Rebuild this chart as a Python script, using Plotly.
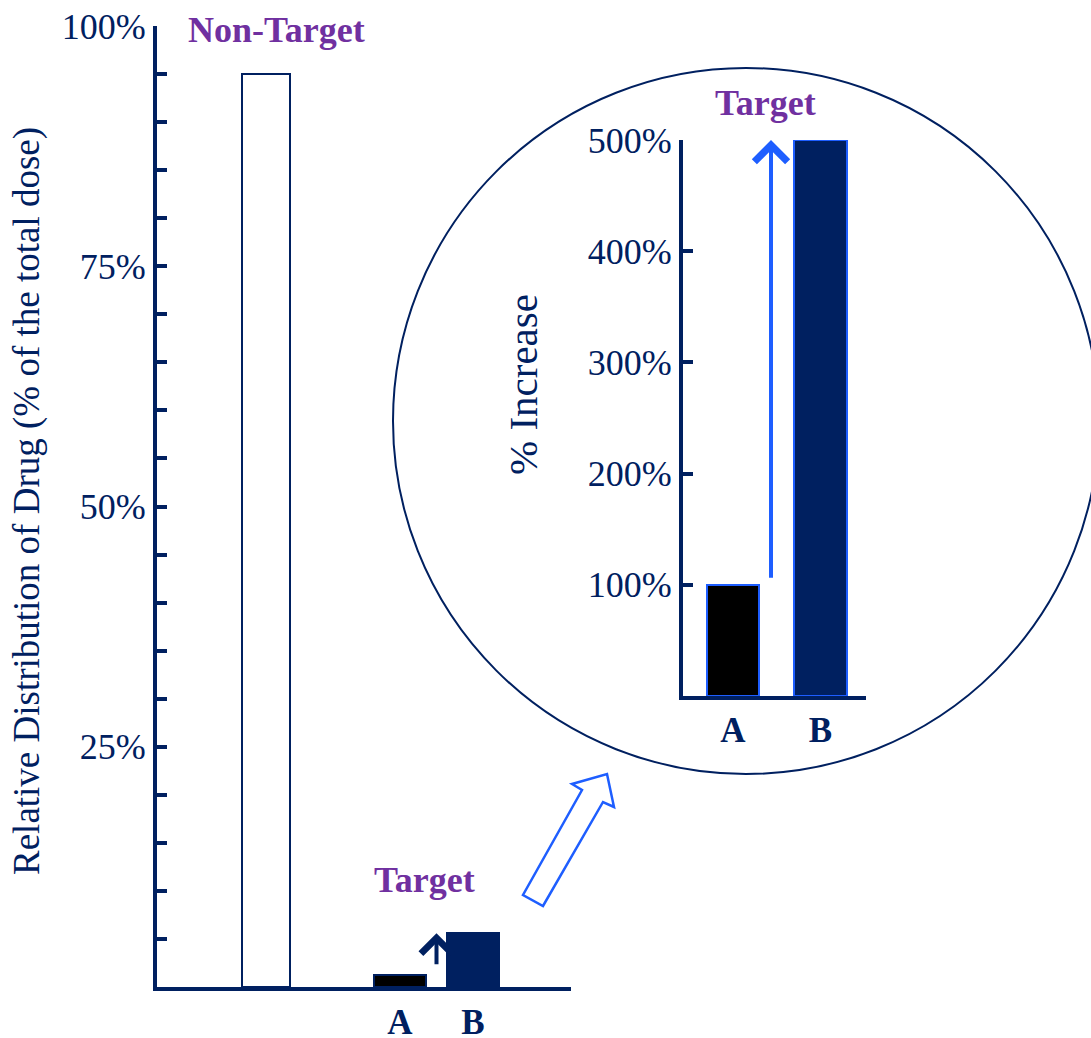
import plotly.graph_objects as go

# ---------------- data ----------------
main_categories = ["Non-Target", "A", "B"]
main_values = [95, 1.2, 5.6]          # % of the total dose
main_ticks = [25, 50, 75, 100]
main_tick_text = ["25%", "50%", "75%", "100%"]

inset_categories = ["A", "B"]
inset_values = [100, 500]             # % increase
inset_ticks = [100, 200, 300, 400, 500]
inset_tick_text = ["100%", "200%", "300%", "400%", "500%"]

# ---------------- layout constants ----------------
W, H = 1091, 1038
NAVY = "#002060"
PURPLE = "#7030A0"
BLUE = "#1E5EFF"
FONT = "Liberation Serif, Times New Roman, serif"

def px(x):
    return x / W

def py(y):
    return 1 - y / H

# main plot geometry (pixels)
M_LEFT, M_RIGHT, M_TOP, M_BOTTOM = 157, 571, 26, 987
# inset geometry
I_LEFT, I_RIGHT, I_TOP, I_BOTTOM = 683, 866, 140, 696

main_pos = [1.09, 2.43, 3.16]
main_width = [0.48, 0.52, 0.52]
main_fill = ["white", "black", NAVY]

inset_pos = [0.50, 1.375]
inset_width = [0.52, 0.53]
inset_fill = ["black", NAVY]

fig = go.Figure()

fig.add_trace(go.Bar(
    x=main_pos, y=main_values, width=main_width,
    marker=dict(color=main_fill, line=dict(color=NAVY, width=2)),
    xaxis="x", yaxis="y", hoverinfo="skip", showlegend=False,
))
fig.add_trace(go.Bar(
    x=inset_pos, y=inset_values, width=inset_width,
    marker=dict(color=inset_fill, line=dict(color=BLUE, width=2)),
    xaxis="x2", yaxis="y2", hoverinfo="skip", showlegend=False,
))

axis_common = dict(showgrid=False, zeroline=False, showline=True,
                   linecolor=NAVY, linewidth=4, fixedrange=True,
                   automargin=False)

fig.update_layout(
    width=W, height=H,
    margin=dict(l=0, r=0, t=0, b=0, autoexpand=False),
    paper_bgcolor="white", plot_bgcolor="rgba(0,0,0,0)",
    font=dict(family=FONT, color=NAVY, size=36),
    bargap=0,
    xaxis=dict(
        **axis_common,
        domain=[px(M_LEFT), px(M_RIGHT)],
        range=[0, (M_RIGHT - M_LEFT) / 100],
        tickvals=main_pos[1:], ticktext=main_categories[1:],
        ticks="", ticklabelstandoff=1,
        tickfont=dict(family=FONT, size=35, color=NAVY, weight="bold"),
        anchor="y",
    ),
    yaxis=dict(
        **axis_common,
        domain=[py(M_BOTTOM), py(M_TOP)],
        range=[0, 100],
        tickvals=main_ticks, ticktext=main_tick_text,
        ticks="inside", ticklen=10, tickwidth=4, tickcolor=NAVY,
        minor=dict(dtick=5, tick0=0, ticks="inside", ticklen=10,
                   tickwidth=4, tickcolor=NAVY),
        tickfont=dict(family=FONT, size=36, color=NAVY),
        anchor="x",
    ),
    xaxis2=dict(
        **axis_common,
        domain=[px(I_LEFT), px(I_RIGHT)],
        range=[0, (I_RIGHT - I_LEFT) / 100],
        tickvals=inset_pos, ticktext=inset_categories,
        ticks="", ticklabelstandoff=0,
        tickfont=dict(family=FONT, size=35, color=NAVY, weight="bold"),
        anchor="y2",
    ),
    yaxis2=dict(
        **axis_common,
        domain=[py(I_BOTTOM), py(I_TOP)],
        range=[0, 500],
        tickvals=inset_ticks, ticktext=inset_tick_text,
        ticks="inside", ticklen=10, tickwidth=4, tickcolor=NAVY,
        tickfont=dict(family=FONT, size=36, color=NAVY),
        anchor="x2",
    ),
)

# axis titles as rotated annotations
fig.add_annotation(
    text="Relative Distribution of Drug (% of the total dose)",
    xref="paper", yref="paper", x=px(27), y=py(501),
    textangle=-90, showarrow=False,
    font=dict(family=FONT, size=37, color=NAVY),
    xanchor="center", yanchor="middle",
)
fig.add_annotation(
    text="% Increase",
    xref="paper", yref="paper", x=px(523), y=py(385),
    textangle=-90, showarrow=False,
    font=dict(family=FONT, size=41, color=NAVY),
    xanchor="center", yanchor="middle",
)

# group labels
fig.add_annotation(text="Non-Target", xref="paper", yref="paper",
                   x=px(276), y=py(30), showarrow=False,
                   font=dict(family=FONT, size=36, color=PURPLE, weight="bold"),
                   xanchor="center", yanchor="middle")
fig.add_annotation(text="Target", xref="paper", yref="paper",
                   x=px(424), y=py(880), showarrow=False,
                   font=dict(family=FONT, size=36, color=PURPLE, weight="bold"),
                   xanchor="center", yanchor="middle")
fig.add_annotation(text="Target", xref="paper", yref="paper",
                   x=px(765), y=py(103), showarrow=False,
                   font=dict(family=FONT, size=36, color=PURPLE, weight="bold"),
                   xanchor="center", yanchor="middle")

# small increase arrow in main plot (from A level up to B level)
main_arrow_x = (main_pos[1] + main_width[1] / 2 + main_pos[2] - main_width[2] / 2) / 2
fig.add_annotation(
    x=main_arrow_x, y=main_values[2], ax=main_arrow_x, ay=main_values[1] + 1.0,
    xref="x", yref="y", axref="x", ayref="y",
    text="", showarrow=True, arrowhead=4, arrowsize=1.5,
    arrowwidth=4, arrowcolor=NAVY, standoff=0,
)

# increase arrow in inset
inset_arrow_x = 0.88
fig.add_annotation(
    x=inset_arrow_x, y=inset_values[1], ax=inset_arrow_x, ay=inset_values[0] + 5,
    xref="x2", yref="y2", axref="x2", ayref="y2",
    text="", showarrow=True, arrowhead=4, arrowsize=1.6,
    arrowwidth=4, arrowcolor=BLUE, standoff=0,
)

# magnifier circle
cx, cy, r = 746, 421, 353
fig.add_shape(type="circle", xref="paper", yref="paper",
              x0=px(cx - r), x1=px(cx + r), y0=py(cy + r), y1=py(cy - r),
              line=dict(color=NAVY, width=2), layer="below")

# hollow block arrow pointing to the inset
pts = [(607, 774), (614, 807), (603, 802), (543, 906), (523, 895),
       (582, 790), (572, 784)]
path = "M " + " L ".join(f"{px(x):.5f},{py(y):.5f}" for x, y in pts) + " Z"
fig.add_shape(type="path", xref="paper", yref="paper", path=path,
              line=dict(color=BLUE, width=2.5), fillcolor="white")

fig.write_html("out.html")
